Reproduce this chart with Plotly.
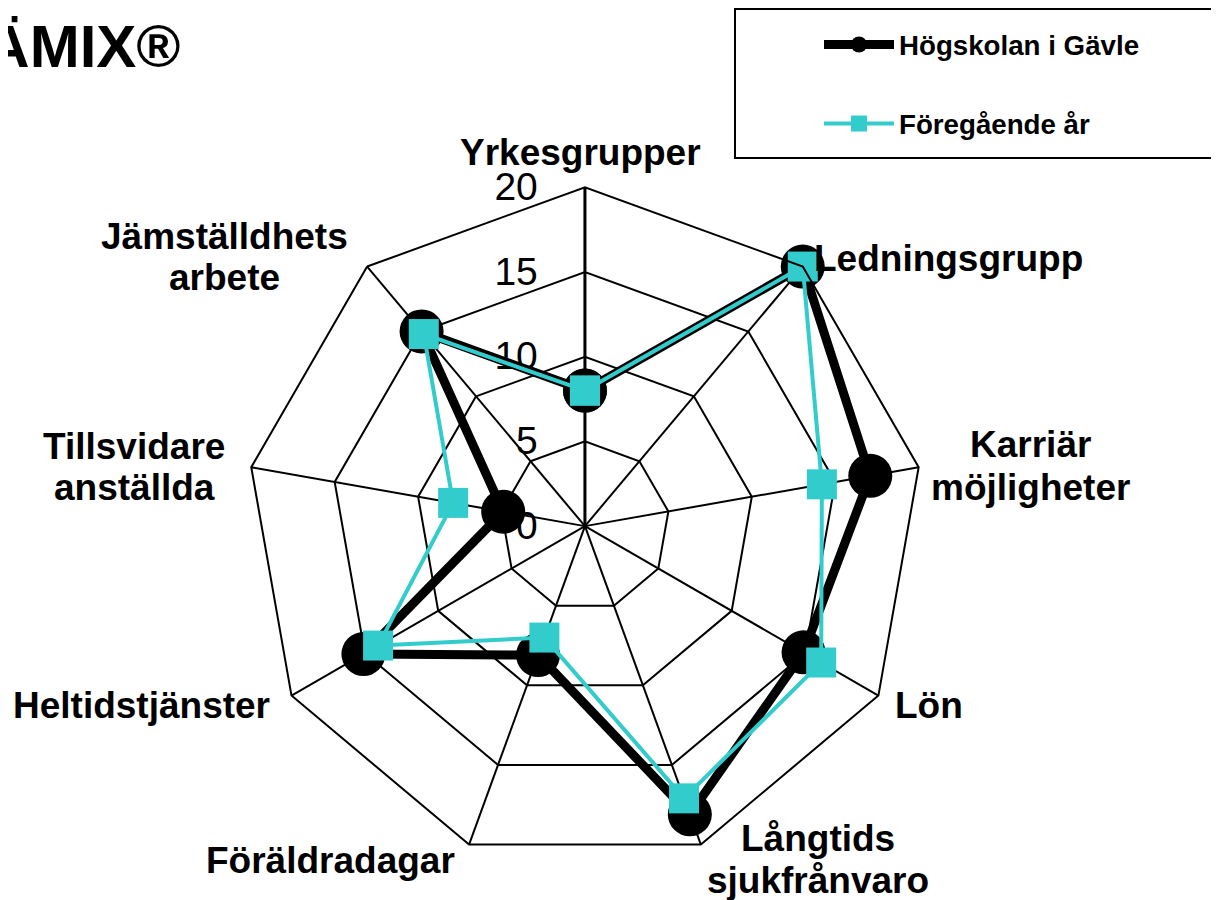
import plotly.graph_objects as go

categories = ["Yrkesgrupper", "Ledningsgrupp", "Karriär<br>möjligheter", "Lön",
              "Långtids<br>sjukfrånvaro", "Föräldradagar", "Heltidstjänster",
              "Tillsvidare<br>anställda", "Jämställdhets<br>arbete"]
hig_values = [8.0, 20.0, 17.1, 14.9, 18.1, 8.1, 15.1, 4.9, 15.0]
prev_values = [8.0, 20.0, 14.2, 16.1, 17.1, 7.0, 14.1, 7.9, 14.8]
series_names = ["Högskolan i Gävle", "Föregående år"]
radial_ticks = [0, 5, 10, 15, 20]
title_text = "JÄMIX®"

FONT = "Liberation Sans, Arial, sans-serif"
W, H = 1219, 900
OFF = 8  # page body margin


def px(x):
    return (x - OFF) / W


def py(y):
    return 1 - (y - OFF) / H


# label placement: (x, xanchor, y of first line, line gap)
label_layout = [
    (580, "center", 152, 0),
    (812, "left", 258, 0),
    (1030, "center", 444, 43),
    (893, "left", 705, 0),
    (818, "center", 838, 42),
    (330, "center", 860, 0),
    (141, "center", 705, 0),
    (134, "center", 446, 41),
    (224, "center", 236, 41),
]

fig = go.Figure()

fig.add_trace(go.Scatterpolar(
    r=hig_values + hig_values[:1],
    theta=categories + categories[:1],
    mode="lines+markers",
    name=series_names[0],
    legendgroup="a",
    line=dict(color="black", width=9),
    marker=dict(symbol="circle", size=44, color="black"),
    cliponaxis=False,
))
fig.add_trace(go.Scatterpolar(
    r=prev_values + prev_values[:1],
    theta=categories + categories[:1],
    mode="lines+markers",
    name=series_names[1],
    legendgroup="b",
    line=dict(color="#33CCCC", width=4),
    marker=dict(symbol="square", size=30, color="#33CCCC"),
    cliponaxis=False,
))

annotations = [dict(
    text=title_text, x=px(183), y=py(46), xref="paper", yref="paper",
    xanchor="right", yanchor="middle", showarrow=False,
    font=dict(family=FONT, size=60, color="black", weight="bold"),
)]
for cat, (lx, xa, ly, gap) in zip(categories, label_layout):
    for i, line in enumerate(cat.split("<br>")):
        annotations.append(dict(
            text=line, x=px(lx), y=py(ly + i * gap), xref="paper", yref="paper",
            xanchor=xa, yanchor="middle", align="center", showarrow=False,
            font=dict(family=FONT, size=37, color="black", weight="bold"),
        ))

fig.update_layout(
    width=W, height=H,
    margin=dict(l=0, r=0, t=0, b=0),
    paper_bgcolor="white",
    plot_bgcolor="white",
    font=dict(family=FONT, color="black"),
    polar=dict(
        domain=dict(x=[0.1953, 0.7513], y=[0.0478, 0.8008]),
        bgcolor="white",
        gridshape="linear",
        angularaxis=dict(
            direction="clockwise",
            rotation=90,
            showline=True, linecolor="black", linewidth=2,
            gridcolor="black", gridwidth=1.5,
            ticks="", showticklabels=False,
        ),
        radialaxis=dict(
            range=[0, 20],
            tickvals=radial_ticks,
            showticklabels=True,
            side="counterclockwise",
            tickangle=90,
            ticks="outside", ticklen=32, tickcolor="rgba(0,0,0,0)",
            tickfont=dict(family=FONT, size=39, color="black"),
            angle=90,
            showline=True, linecolor="black", linewidth=3,
            gridcolor="black", gridwidth=2,
            layer="below traces",
        ),
    ),
    legend=dict(
        x=(825 - OFF - 6) / W, y=py(20), xanchor="left", yanchor="top",
        borderwidth=0,
        bgcolor="rgba(0,0,0,0)",
        font=dict(family=FONT, size=27.7, color="black", weight="bold"),
        itemwidth=70,
        tracegroupgap=40,
    ),
    shapes=[dict(
        type="rect", xref="paper", yref="paper",
        x0=px(735), x1=px(1260), y0=py(158), y1=py(9),
        line=dict(color="black", width=2), fillcolor="rgba(0,0,0,0)",
        layer="below",
    )],
    annotations=annotations,
)

fig.write_html("out.html")
